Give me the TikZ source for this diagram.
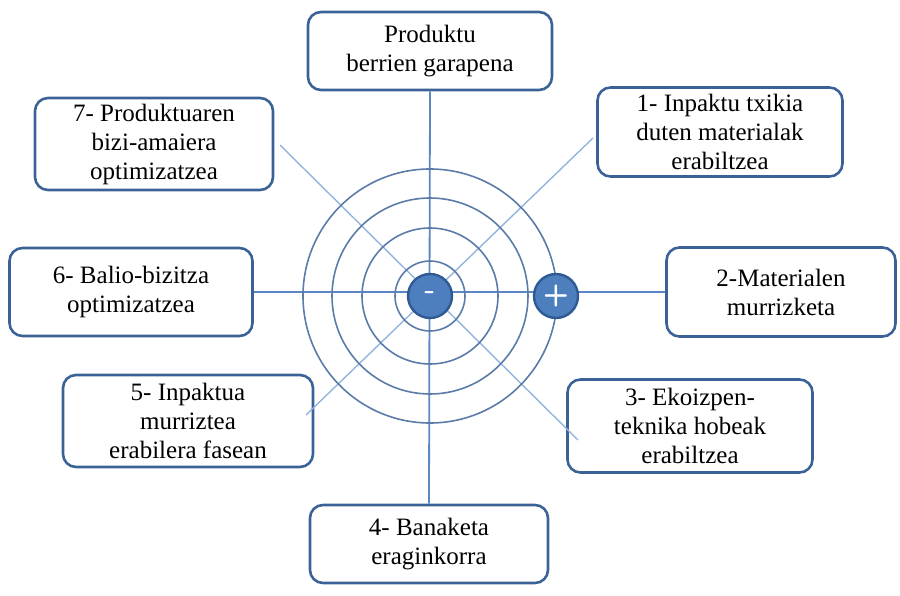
\documentclass[tikz,border=0pt]{standalone}
\usepackage{fontspec}
\setmainfont{Liberation Serif}
\usetikzlibrary{positioning}

\definecolor{boxblue}{HTML}{3B6296}
\definecolor{axisblue}{HTML}{5B88C4}
\definecolor{diagblue}{HTML}{92B4DE}
\definecolor{ringblue}{HTML}{5B7BA8}
\definecolor{dotfill}{HTML}{4D7FBE}
\definecolor{dotedge}{HTML}{2F5A93}

\begin{document}
\begin{tikzpicture}[
  x=1pt, y=-1pt,
  every node/.style={font=\fontsize{25}{29}\selectfont},
  stage/.style={draw=boxblue, line width=2.6pt, rounded corners=13pt,
    fill=white, align=center, inner sep=0pt},
  axis/.style={draw=axisblue, line width=1.8pt},
  diag/.style={draw=diagblue, line width=1.4pt},
  ring/.style={draw=ringblue, line width=1.6pt},
  pole/.style={circle, draw=dotedge, fill=dotfill, line width=2.4pt,
    minimum size=44pt, inner sep=0pt, text=white}
]
\useasboundingbox (0,0) rectangle (900,596);

% ============================================================
% Centre point and free ends of the diagonals
% ============================================================
\coordinate (ctr) at (430,296);
\coordinate (nw) at (280,145);
\coordinate (se) at (578,440);
\coordinate (ne) at (593,138);
\coordinate (sw) at (306,415);

% ============================================================
% Stages round the wheel
% ============================================================
\node[stage, minimum width=244, minimum height=78] (top) at (430,51)
  {Produktu\\berrien garapena};
\node[stage, minimum width=245, minimum height=89] (one) at (720,132)
  {1- Inpaktu txikia\\duten materialak\\erabiltzea};
\node[stage, minimum width=229, minimum height=89] (two) at (781,292)
  {2-Materialen\\murrizketa};
\node[stage, minimum width=245, minimum height=93] (three) at (690,426)
  {3- Ekoizpen-\\teknika hobeak\\erabiltzea};
\node[stage, minimum width=238, minimum height=78] (four) at (429,544)
  {4- Banaketa\\eraginkorra};
\node[stage, minimum width=250, minimum height=92] (five) at (188,421)
  {5- Inpaktua\\murriztea\\erabilera fasean};
\node[stage, minimum width=243, minimum height=88] (six) at (131,292)
  {6- Balio-bizitza\\optimizatzea};
\node[stage, minimum width=238, minimum height=92] (seven) at (154,144)
  {7- Produktuaren\\bizi-amaiera\\optimizatzea};

% ============================================================
% Axes and diagonals
% ============================================================
\draw[diag] (nw) -- (se);
\draw[diag] (ne) -- (sw);
\draw[axis] (top.south) -- (four.north);
\draw[axis] (six.east) -- (two.west);

% ============================================================
% Rings
% ============================================================
\foreach \r in {35,68,98,127} {
  \draw[ring] (ctr) circle (\r);
}

% ============================================================
% Minus and plus poles
% ============================================================
\node[pole, font=\fontsize{30}{30}\selectfont\sffamily\bfseries] (minus) at (ctr) {-};
\node[pole, font=\fontsize{30}{30}\selectfont\sffamily\bfseries] (plus) at (556,296) {+};

\end{tikzpicture}
\end{document}
